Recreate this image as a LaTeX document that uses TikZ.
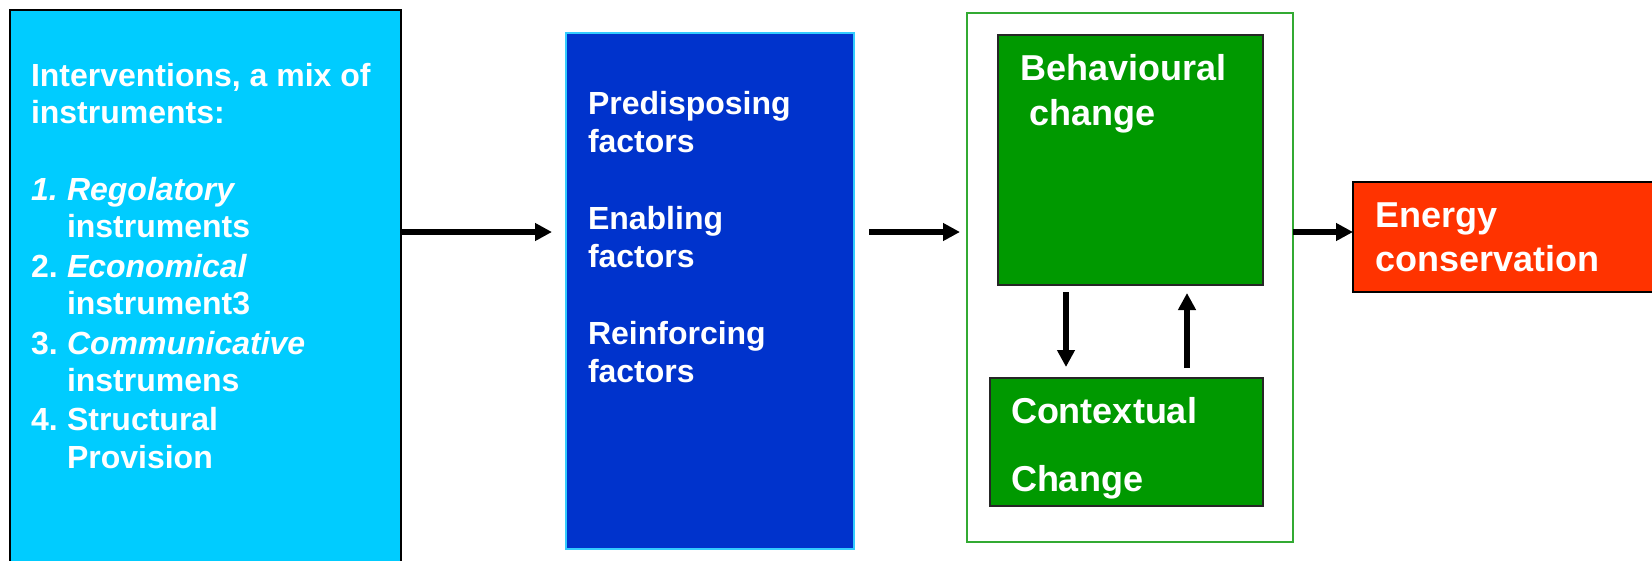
\documentclass[tikz,border=0pt]{standalone}
\usepackage{fontspec}
\setmainfont{Liberation Sans}
\usetikzlibrary{arrows.meta}
\definecolor{cyanbox}{HTML}{00CCFF}
\definecolor{bluebox}{HTML}{0033CC}
\definecolor{blueedge}{HTML}{33CCFF}
\definecolor{greenbox}{HTML}{009900}
\definecolor{greenedge}{HTML}{33AA33}
\definecolor{redbox}{HTML}{FF3300}
\begin{document}
\begin{tikzpicture}[x=1pt,y=-1pt,
  box/.style={anchor=north west, inner sep=0pt, outer sep=0pt},
  txt/.style={anchor=base west, inner sep=0pt, outer sep=0pt, text=white, font=\bfseries\fontsize{32}{38}\selectfont},
  gtxt/.style={anchor=base west, inner sep=0pt, outer sep=0pt, text=white, font=\bfseries\fontsize{36}{42}\selectfont},
  arr/.style={line width=6pt, -{Triangle[length=17pt,width=17pt]}}]
\useasboundingbox (0,0) rectangle (1652,560);
\clip (0,0) rectangle (1652,560);
% boxes
\node[box, fill=cyanbox, draw=black, line width=2pt, minimum width=391pt, minimum height=565pt] (left) at (10,10) {};
\node[box, fill=bluebox, draw=blueedge, line width=1.5pt, minimum width=288pt, minimum height=516pt] (blue) at (566,33) {};
\node[box, draw=greenedge, line width=1.5pt, minimum width=326pt, minimum height=529pt] (outer) at (967,13) {};
\node[box, fill=greenbox, draw=black!85, line width=2pt, minimum width=265pt, minimum height=250pt] (behav) at (998,35) {};
\node[box, fill=greenbox, draw=black!85, line width=2pt, minimum width=273pt, minimum height=128pt] (context) at (990,378) {};
\node[box, fill=redbox, draw=black, line width=2pt, minimum width=320pt, minimum height=110pt] (energy) at (1353,182) {};
% left texts
\node[txt] (l1) at (31,86) {Interventions, a mix of};
\node[txt] (l2) at (31,123) {instruments:};
\node[txt] (l3) at (31,200) {\makebox[36pt][l]{\itshape 1.}\itshape Regolatory};
\node[txt] (l4) at (67,237) {instruments};
\node[txt] (l5) at (31,277) {\makebox[36pt][l]{2.}\itshape Economical};
\node[txt] (l6) at (67,314) {instrument3};
\node[txt] (l7) at (31,354) {\makebox[36pt][l]{3.}\itshape Communicative};
\node[txt] (l8) at (67,391) {instrumens};
\node[txt] (l9) at (31,430) {\makebox[36pt][l]{4.}Structural};
\node[txt] (l10) at (67,468) {Provision};
% blue texts
\node[txt] (b1) at (588,114) {Predisposing};
\node[txt] (b2) at (588,152) {factors};
\node[txt] (b3) at (588,229) {Enabling};
\node[txt] (b4) at (588,267) {factors};
\node[txt] (b5) at (588,344) {Reinforcing};
\node[txt] (b6) at (588,382) {factors};
% green / red texts
\node[gtxt] (g1) at (1020,80) {Behavioural};
\node[gtxt] (g2) at (1029,125) {change};
\node[gtxt] (c1) at (1011,423) {Contextual};
\node[gtxt] (c2) at (1011,491) {Change};
\node[gtxt] (e1) at (1375,227) {Energy};
\node[gtxt] (e2) at (1375,271) {conservation};
% arrows
\draw[arr, shorten >=14pt] (left.east |- 0,232) -- (blue.west |- 0,232);
\draw[arr, shorten <=15pt, shorten >=7pt] (blue.east |- 0,232) -- (outer.west |- 0,232);
\draw[arr] (outer.east |- 0,232) -- (energy.west |- 0,232);
\draw[arr, shorten <=7pt, shorten >=11pt] ([xshift=-64.5pt]behav.south) -- ([xshift=-64.5pt]behav.south |- context.north);
\draw[arr, shorten <=10pt, shorten >=8pt] ([xshift=56.5pt]behav.south |- context.north) -- ([xshift=56.5pt]behav.south);
\end{tikzpicture}
\end{document}
